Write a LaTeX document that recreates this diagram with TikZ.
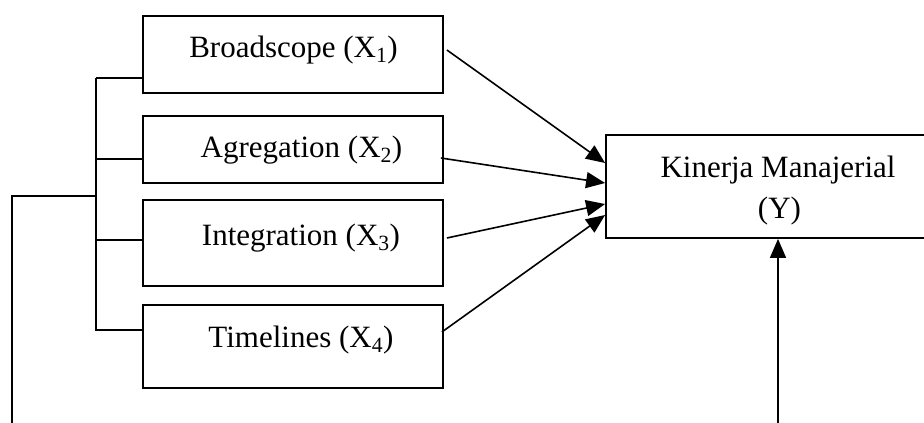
\documentclass[tikz,border=0pt]{standalone}
\usepackage{fontspec}
\setmainfont{Liberation Serif}
\usetikzlibrary{arrows.meta}
\begin{document}
\begin{tikzpicture}[x=1pt,y=-1pt,
  box/.style={draw,line width=1.8pt,minimum width=300pt,inner sep=0pt},
  lbl/.style={anchor=base,inner sep=0pt,font=\fontsize{31}{37}\selectfont},
  conn/.style={line width=1.6pt},
  arr/.style={line width=1.6pt,-{Triangle[length=19pt,width=16pt]}}]
\useasboundingbox (0,0) rectangle (924,423);
\clip (0,0) rectangle (924,423);
\node[box,minimum height=77pt] (b1) at (293,54.5) {};
\node[box,minimum height=67pt] (b2) at (293,149.5) {};
\node[box,minimum height=86pt] (b3) at (293,243) {};
\node[box,minimum height=83pt] (b4) at (293,346.5) {};
\node[box,minimum width=344pt,minimum height=103pt] (y) at (778,186.5) {};
\node[lbl] (t1) at (293.5,57) {Broadscope (X\textsubscript{1})};
\node[lbl] (t2) at (301.5,157) {Agregation (X\textsubscript{2})};
\node[lbl] (t3) at (301,245) {Integration (X\textsubscript{3})};
\node[lbl] (t4) at (301,347) {Timelines (X\textsubscript{4})};
\node[lbl] (ty1) at (778,177) {Kinerja Manajerial};
\node[lbl] (ty2) at (779.5,218) {(Y)};
% bracket
\coordinate (top) at (96,78);
\coordinate (bot) at (96,331);
\coordinate (mid) at (96,196);
\coordinate (corner) at (12,196);
\coordinate (left) at (12,423);
\coordinate (ybot) at (778,423);
\draw[conn] (top) -- (bot);
\draw[conn] (top) -- ([shift={(0,23.5)}]b1.west);
\draw[conn] (96,159) -- ([shift={(0,9.5)}]b2.west);
\draw[conn] (96,240) -- ([shift={(0,-3)}]b3.west);
\draw[conn] (96,330) -- ([shift={(0,-16.5)}]b4.west);
\draw[conn] (mid) -- (corner) -- (left);
% arrows
\draw[arr] ([shift={(3,-4.5)}]b1.east) -- ([shift={(0,-23.5)}]y.west);
\draw[arr] ([shift={(-3,8.5)}]b2.east) -- ([shift={(0,-3.5)}]y.west);
\draw[arr] ([shift={(3,-5)}]b3.east) -- ([shift={(0,17.5)}]y.west);
\draw[arr] ([shift={(-2,-14.5)}]b4.east) -- ([shift={(0,28.5)}]y.west);
\draw[arr] (ybot) -- (y.south);
\end{tikzpicture}
\end{document}
